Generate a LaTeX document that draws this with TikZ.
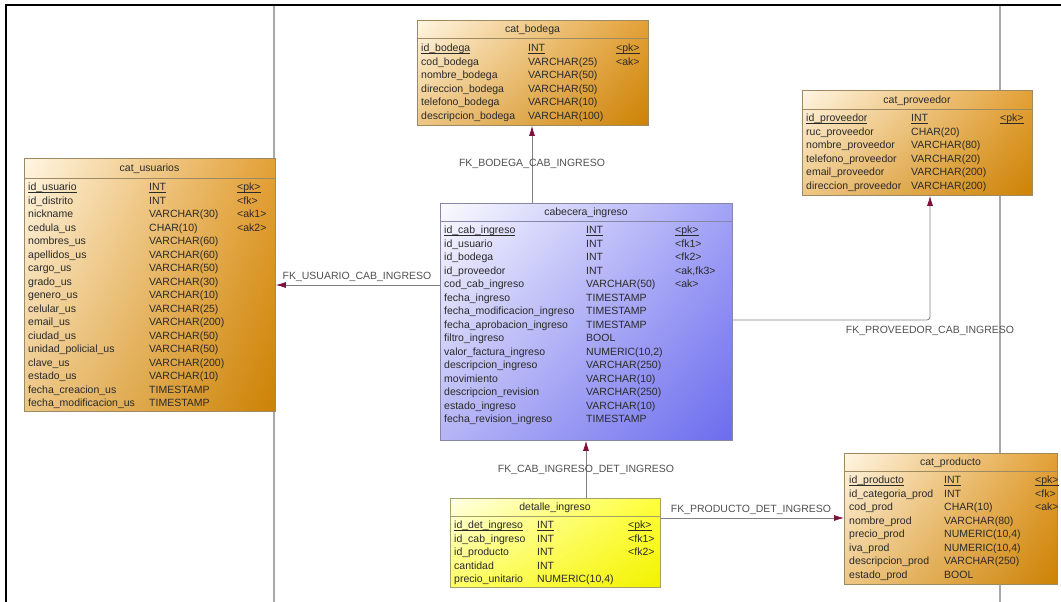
\documentclass[tikz,border=0pt]{standalone}
\usepackage{fontspec}
\setmainfont{Liberation Sans}
\usetikzlibrary{arrows.meta,shadings}
\definecolor{orUL}{HTML}{FFF6E2}
\definecolor{orUR}{HTML}{E3A036}
\definecolor{orLL}{HTML}{EDC685}
\definecolor{orLR}{HTML}{CC8204}
\definecolor{blUL}{HTML}{FBFBFF}
\definecolor{blUR}{HTML}{A2A2F6}
\definecolor{blLL}{HTML}{B4B4F6}
\definecolor{blLR}{HTML}{6C6CEE}
\definecolor{yeUL}{HTML}{FFFFE6}
\definecolor{yeUR}{HTML}{FFFF3A}
\definecolor{yeLL}{HTML}{FFFF66}
\definecolor{yeLR}{HTML}{F2F200}
\definecolor{orBd}{HTML}{9E8A62}
\definecolor{blBd}{HTML}{8686A6}
\definecolor{yeBd}{HTML}{A2A266}
\definecolor{txt}{HTML}{2A2A2A}
\definecolor{lbl}{HTML}{505050}
\definecolor{lineg}{HTML}{808080}
\definecolor{fkred}{HTML}{80103C}
\definecolor{pageg}{HTML}{A8A8A8}
\newcommand\pkul[1]{\underline{\smash{#1}}}
\newcommand\tblrows[6]{%
  \foreach \cn/\ct/\ck [count=\ci from 0] in {#6} {
    \node[cell] (#1n\ci) at (#2,{#5+3.7+13.5*\ci}) {\cn};
    \node[cell] (#1t\ci) at (#3,{#5+3.7+13.5*\ci}) {\ct};
    \node[cell] (#1k\ci) at (#4,{#5+3.7+13.5*\ci}) {\ck};
  }}
\begin{document}
\catcode`\_=12
\begin{tikzpicture}[x=1pt,y=-1pt,
  every node/.style={font=\fontsize{10.5}{12}\selectfont},
  tbl/.style={anchor=north west, inner sep=0pt, shade, minimum width=#1},
  orangetbl/.style={draw=orBd, line width=0.8pt, upper left=orUL, upper right=orUR, lower left=orLL, lower right=orLR},
  bluetbl/.style={draw=blBd, line width=0.8pt, upper left=blUL, upper right=blUR, lower left=blLL, lower right=blLR},
  yellowtbl/.style={draw=yeBd, line width=0.8pt, upper left=yeUL, upper right=yeUR, lower left=yeLL, lower right=yeLR},
  cell/.style={anchor=base west, inner sep=0pt, text=txt},
  head/.style={anchor=base, inner sep=0pt, text=txt},
  fklabel/.style={anchor=base, inner sep=0pt, text=lbl},
  fk/.style={draw=lineg, line width=0.8pt, -{Latex[length=10pt,width=6pt,color=fkred]}},
  pagebreak/.style={draw=pageg, line width=1.4pt},
  frame/.style={draw=black, line width=2pt}]
\useasboundingbox (0,0) rectangle (1061,602);
% page breaks and frame
\draw[pagebreak] (274,6) -- (274,602);
\draw[pagebreak] (1000,6) -- (1000,602);
\draw[frame] (6,602) -- (6,5) -- (1061,5);

% cat_bodega
\node[tbl=231pt, orangetbl, minimum height=105pt] (bod) at (417,20) {};
\draw[orBd, line width=0.7pt] ([yshift=-18pt]bod.north west) -- ([yshift=-18pt]bod.north east);
\node[head] (bodh) at (532.5,32.7) {cat_bodega};
\tblrows{bod}{421}{528}{616}{48}{\pkul{id_bodega}/\pkul{INT}/\pkul{<pk>},
 cod_bodega/VARCHAR(25)/<ak>, nombre_bodega/VARCHAR(50)/{}, direccion_bodega/VARCHAR(50)/{},
 telefono_bodega/VARCHAR(10)/{}, descripcion_bodega/VARCHAR(100)/{}}

% cat_proveedor
\node[tbl=230pt, orangetbl, minimum height=105pt] (prov) at (802,90) {};
\draw[orBd, line width=0.7pt] ([yshift=-19pt]prov.north west) -- ([yshift=-19pt]prov.north east);
\node[head] (provh) at (917,103.2) {cat_proveedor};
\tblrows{prov}{806}{911}{1000}{118}{\pkul{id_proveedor}/\pkul{INT}/\pkul{<pk>},
 ruc_proveedor/CHAR(20)/{}, nombre_proveedor/VARCHAR(80)/{}, telefono_proveedor/VARCHAR(20)/{},
 email_proveedor/VARCHAR(200)/{}, direccion_proveedor/VARCHAR(200)/{}}

% cat_usuarios
\node[tbl=251pt, orangetbl, minimum height=253pt] (usu) at (24,158) {};
\draw[orBd, line width=0.7pt] ([yshift=-20pt]usu.north west) -- ([yshift=-20pt]usu.north east);
\node[head] (usuh) at (149.5,171.7) {cat_usuarios};
\tblrows{usu}{28}{149}{237}{187}{\pkul{id_usuario}/\pkul{INT}/\pkul{<pk>},
 id_distrito/INT/<fk>, nickname/VARCHAR(30)/<ak1>, cedula_us/CHAR(10)/<ak2>,
 nombres_us/VARCHAR(60)/{}, apellidos_us/VARCHAR(60)/{}, cargo_us/VARCHAR(50)/{},
 grado_us/VARCHAR(30)/{}, genero_us/VARCHAR(10)/{}, celular_us/VARCHAR(25)/{},
 email_us/VARCHAR(200)/{}, ciudad_us/VARCHAR(50)/{}, unidad_policial_us/VARCHAR(50)/{},
 clave_us/VARCHAR(200)/{}, estado_us/VARCHAR(10)/{}, fecha_creacion_us/TIMESTAMP/{},
 fecha_modificacion_us/TIMESTAMP/{}}

% cabecera_ingreso
\node[tbl=292pt, bluetbl, minimum height=237pt] (cab) at (440,203) {};
\draw[blBd, line width=0.7pt] ([yshift=-18pt]cab.north west) -- ([yshift=-18pt]cab.north east);
\node[head] (cabh) at (586,215.7) {cabecera_ingreso};
\tblrows{cab}{444}{586}{675}{230}{\pkul{id_cab_ingreso}/\pkul{INT}/\pkul{<pk>},
 id_usuario/INT/<fk1>, id_bodega/INT/<fk2>, id_proveedor/INT/{<ak,fk3>},
 cod_cab_ingreso/VARCHAR(50)/<ak>, fecha_ingreso/TIMESTAMP/{},
 fecha_modificacion_ingreso/TIMESTAMP/{}, fecha_aprobacion_ingreso/TIMESTAMP/{},
 filtro_ingreso/BOOL/{}, valor_factura_ingreso/{NUMERIC(10,2)}/{},
 descripcion_ingreso/VARCHAR(250)/{}, movimiento/VARCHAR(10)/{},
 descripcion_revision/VARCHAR(250)/{}, estado_ingreso/VARCHAR(10)/{},
 fecha_revision_ingreso/TIMESTAMP/{}}

% detalle_ingreso
\node[tbl=210pt, yellowtbl, minimum height=89pt] (det) at (450,498) {};
\draw[yeBd, line width=0.7pt] ([yshift=-18pt]det.north west) -- ([yshift=-18pt]det.north east);
\node[head] (deth) at (555,510.7) {detalle_ingreso};
\tblrows{det}{454}{537}{628}{525}{\pkul{id_det_ingreso}/\pkul{INT}/\pkul{<pk>},
 id_cab_ingreso/INT/<fk1>, id_producto/INT/<fk2>, cantidad/INT/{},
 precio_unitario/{NUMERIC(10,4)}/{}}

% cat_producto
\node[tbl=213pt, orangetbl, minimum height=131pt] (prod) at (844,453) {};
\draw[orBd, line width=0.7pt] ([yshift=-18pt]prod.north west) -- ([yshift=-18pt]prod.north east);
\node[head] (prodh) at (950.5,465.7) {cat_producto};
\tblrows{prod}{849}{944}{1035}{480}{\pkul{id_producto}/\pkul{INT}/\pkul{<pk>},
 id_categoria_prod/INT/<fk>, cod_prod/CHAR(10)/<ak>, nombre_prod/VARCHAR(80)/{},
 precio_prod/{NUMERIC(10,4)}/{}, iva_prod/{NUMERIC(10,4)}/{},
 descripcion_prod/VARCHAR(250)/{}, estado_prod/BOOL/{}}

% connectors
\coordinate (bx) at (532,0);
\coordinate (uy) at (0,285);
\coordinate (py) at (0,320);
\coordinate (px) at (930,0);
\coordinate (cx) at (586,0);
\coordinate (dy) at (0,518);
\draw[fk] (cab.north -| bx) -- (bod.south -| bx);
\draw[fk] (cab.west |- uy) -- (usu.east |- uy);
\draw[fk, rounded corners=3pt] (cab.east |- py) -| (prov.south -| px);
\draw[fk] (det.north -| cx) -- (cab.south -| cx);
\draw[fk] (det.east |- dy) -- (prod.west |- dy);

% connector labels
\node[fklabel] (lb) at (532,166.7) {FK_BODEGA_CAB_INGRESO};
\node[fklabel] (lu) at (357,279.7) {FK_USUARIO_CAB_INGRESO};
\node[fklabel] (lp) at (930,333.7) {FK_PROVEEDOR_CAB_INGRESO};
\node[fklabel] (lc) at (586,472.7) {FK_CAB_INGRESO_DET_INGRESO};
\node[fklabel] (ld) at (751,512.7) {FK_PRODUCTO_DET_INGRESO};
\end{tikzpicture}
\end{document}
